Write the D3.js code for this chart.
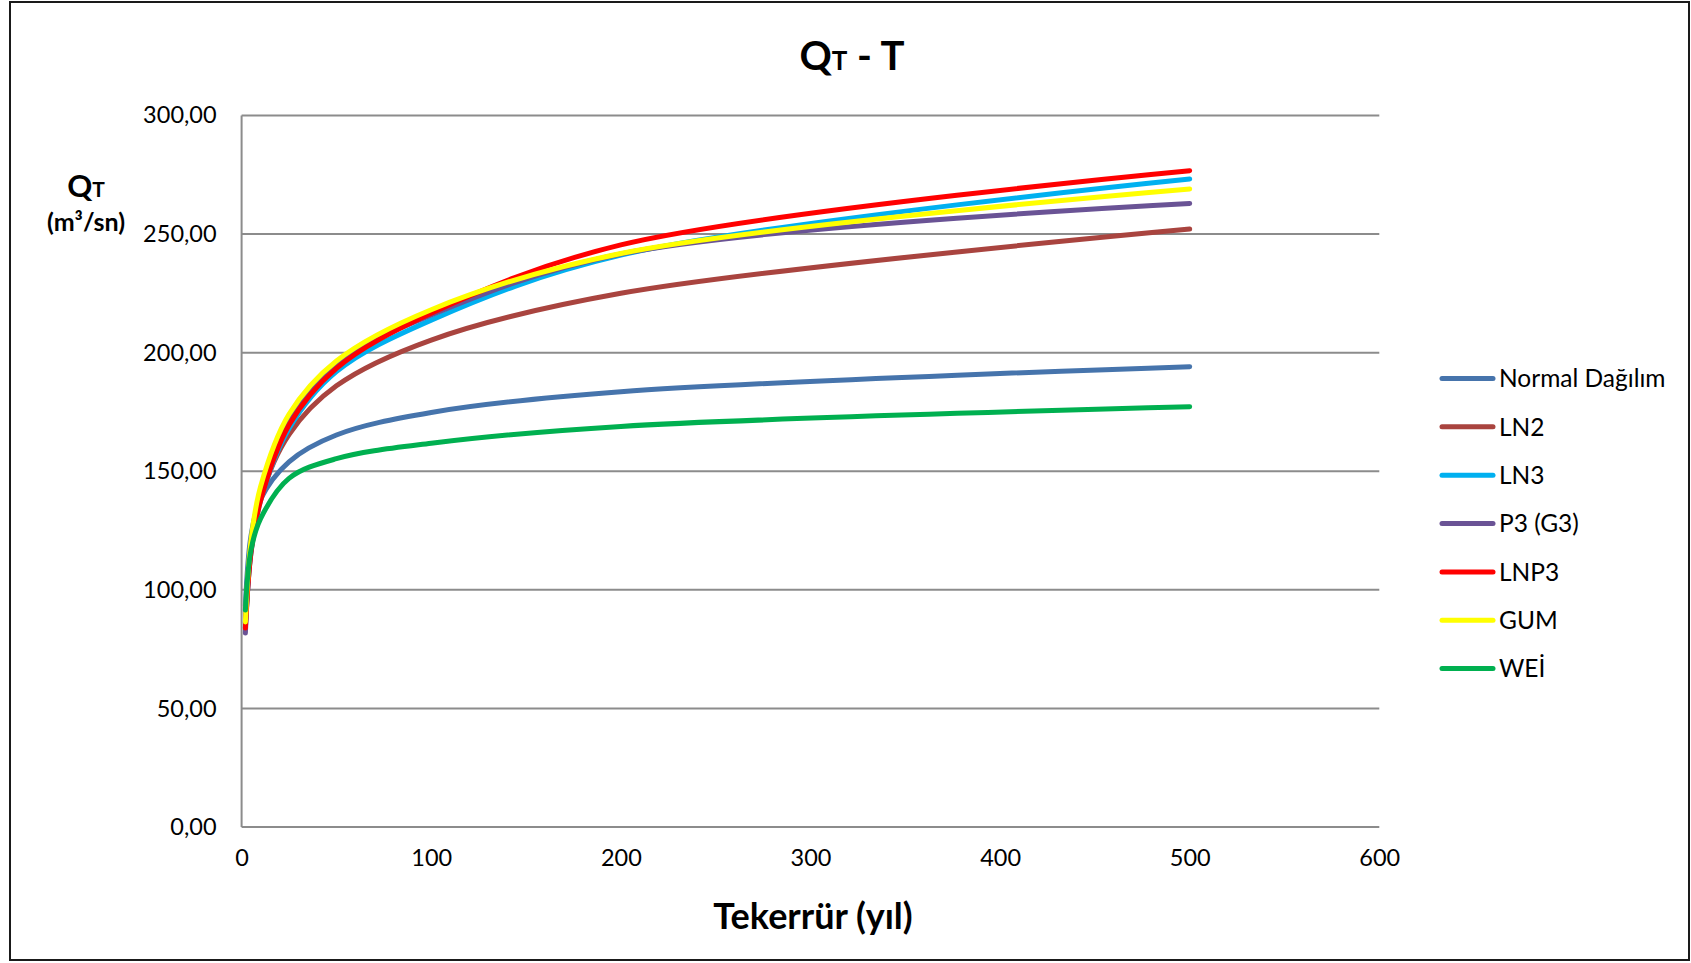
<!DOCTYPE html>
<html><head><meta charset="utf-8">
<script src="https://cdn.jsdelivr.net/npm/d3@7/dist/d3.min.js"></script>
<style>
html,body{margin:0;padding:0;background:#fff;}
svg{display:block;font-family:Lato,"Open Sans",sans-serif;}
</style></head>
<body>
<svg id="chart" width="1691" height="963"></svg>
<script>
// Return periods (years)
const returnPeriods = [2, 5, 10, 25, 50, 100, 200, 500];
// Series values (m3/sn)
const normalValues = [93.4, 122.9, 138.2, 154.0, 165.3, 174.8, 183.5, 194.1];
const ln2Values    = [86.1, 117.9, 138.9, 165.5, 186.0, 205.3, 225.0, 252.1];
const ln3Values    = [84.0, 116.0, 137.5, 168.0, 192.0, 213.7, 241.1, 273.2];
const p3Values     = [81.8, 117.0, 139.0, 171.6, 195.5, 215.9, 241.6, 262.9];
const lnp3Values   = [83.9, 116.0, 137.5, 169.5, 193.4, 216.6, 245.4, 276.7];
const gumValues    = [86.5, 121.0, 143.5, 174.0, 196.5, 218.1, 241.8, 269.0];
const weiValues    = [91.5, 117.0, 130.0, 147.0, 155.3, 161.8, 168.9, 177.2];
const seriesNames  = ["Normal Dağılım", "LN2", "LN3", "P3 (G3)", "LNP3", "GUM", "WEİ"];
const seriesColors = ["#4674AC", "#A9443F", "#00B0F0", "#6A5395", "#FF0000", "#FFFF00", "#00B050"];
const xTicks = [0, 100, 200, 300, 400, 500, 600];
const yTicks = [0, 50, 100, 150, 200, 250, 300];

const allValues = [normalValues, ln2Values, ln3Values, p3Values, lnp3Values, gumValues, weiValues];
const series = seriesNames.map((name, i) => ({
  name, color: seriesColors[i],
  points: returnPeriods.map((t, j) => ({t, v: allValues[i][j]}))
}));

const svg = d3.select("#chart");
const pL = 241.6, pR = 1379.3, pT = 115.4, pB = 827.1;
const x = d3.scaleLinear().domain([0, 600]).range([pL, pR]);
const y = d3.scaleLinear().domain([0, 300]).range([pB, pT]);
const fmt = v => d3.format(".2f")(v).replace(".", ",");

// outer border
svg.append("rect").attr("x", 10).attr("y", 2).attr("width", 1679).attr("height", 958)
  .attr("fill", "none").attr("stroke", "#1a1a1a").attr("stroke-width", 2);

// gridlines
svg.append("g").selectAll("line").data(yTicks).join("line")
  .attr("x1", pL).attr("x2", pR)
  .attr("y1", d => y(d)).attr("y2", d => y(d))
  .attr("stroke", "#8c8c8c").attr("stroke-width", 2);

// left axis line
svg.append("line").attr("x1", pL).attr("x2", pL).attr("y1", pT).attr("y2", pB)
  .attr("stroke", "#8c8c8c").attr("stroke-width", 2);

// y axis labels
const yAxis = d3.axisLeft(y).tickValues(yTicks).tickFormat(fmt).tickSize(0).tickPadding(25);
const gy = svg.append("g").attr("transform", `translate(${pL},0)`).call(yAxis);
gy.select(".domain").remove();
gy.selectAll("text").attr("font-size", 23.5).attr("fill", "#000").attr("font-family", "Lato");

// x axis labels
const xAxis = d3.axisBottom(x).tickValues(xTicks).tickFormat(d3.format("d")).tickSize(0).tickPadding(22);
const gx = svg.append("g").attr("transform", `translate(0,${pB})`).call(xAxis);
gx.select(".domain").remove();
gx.selectAll("text").attr("font-size", 23.5).attr("fill", "#000").attr("font-family", "Lato");

// lines
const line = d3.line().x(d => x(d.t)).y(d => y(d.v)).curve(d3.curveCatmullRom.alpha(0.5));
svg.append("g").selectAll("path").data(series).join("path")
  .attr("d", d => line(d.points))
  .attr("fill", "none").attr("stroke", d => d.color)
  .attr("stroke-width", 5).attr("stroke-linecap", "round").attr("stroke-linejoin", "round");

// title
const title = svg.append("text").attr("x", 852).attr("y", 70).attr("text-anchor", "middle")
  .attr("font-weight", "bold").attr("font-size", 40).attr("fill", "#000");
title.append("tspan").text("Q");
title.append("tspan").attr("font-size", 26).text("T");
title.append("tspan").text(" - T");

// y title
const yt = svg.append("text").attr("x", 86).attr("y", 197).attr("text-anchor", "middle")
  .attr("font-weight", "bold").attr("font-size", 31).attr("fill", "#000");
yt.append("tspan").text("Q");
yt.append("tspan").attr("font-size", 21).text("T");
svg.append("text").attr("x", 86).attr("y", 231).attr("text-anchor", "middle")
  .attr("font-weight", "bold").attr("font-size", 25).attr("fill", "#000").text("(m³/sn)");

// x title
svg.append("text").attr("x", 813).attr("y", 929).attr("text-anchor", "middle")
  .attr("font-weight", "bold").attr("font-size", 36).attr("fill", "#000").text("Tekerrür (yıl)");

// legend
const legendY = d3.scalePoint().domain(seriesNames).range([378.5, 668.6]);
const lg = svg.append("g").selectAll("g").data(series).join("g")
  .attr("transform", d => `translate(0,${legendY(d.name)})`);
lg.append("line").attr("x1", 1442).attr("x2", 1493).attr("y1", 0).attr("y2", 0)
  .attr("stroke", d => d.color).attr("stroke-width", 5).attr("stroke-linecap", "round");
lg.append("text").attr("x", 1499).attr("y", 0).attr("dy", "0.36em")
  .attr("font-size", 24.5).attr("fill", "#000").text(d => d.name);
</script>
</body></html>
